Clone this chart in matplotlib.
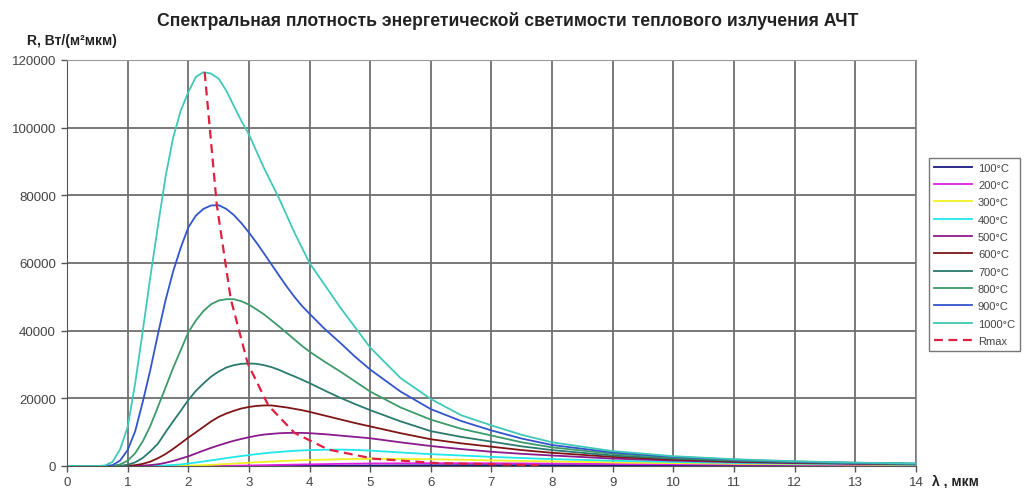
import matplotlib
matplotlib.use("Agg")
import matplotlib.pyplot as plt

plt.rcParams['font.family'] = ['Liberation Sans', 'DejaVu Sans']

# wavelength grid, µm
lam = [0, 0.5, 0.625, 0.75, 0.875, 1.0, 1.125, 1.25, 1.375, 1.5,
       1.625, 1.75, 1.875, 2.0, 2.125, 2.25, 2.375, 2.5, 2.625, 2.75,
       2.875, 3.0, 3.125, 3.25, 3.375, 3.5, 3.625, 3.75, 3.875, 4.0,
       4.25, 4.5, 4.75, 5.0, 5.5, 6.0, 6.5, 7.0, 7.5, 8.0,
       9.0, 10.0, 11.0, 12.0, 13.0, 14.0]

labels = ['100°C', '200°C', '300°C', '400°C', '500°C', '600°C', '700°C', '800°C', '900°C', '1000°C']

r100 = [0, 0, 0, 0, 0, 0, 0, 0, 0, 0,
        0, 0, 0, 0, 1, 2, 3, 4, 6, 8,
        10, 12, 16, 20, 25, 30, 38, 46, 55, 64,
        83, 103, 122, 140, 180, 208, 229, 243, 249, 250,
        236, 217, 194, 170, 148, 127]
r200 = [0, 0, 0, 0, 0, 0, 0, 0, 0, 0,
        0, 2, 6, 15, 22, 30, 40, 50, 75, 100,
        130, 165, 200, 240, 280, 320, 360, 405, 450, 490,
        560, 635, 690, 740, 800, 825, 820, 800, 760, 710,
        600, 500, 420, 350, 290, 250]
r300 = [0, 0, 0, 0, 0, 0, 0, 0, 0, 5,
        20, 40, 70, 110, 170, 250, 330, 450, 580, 700,
        830, 970, 1090, 1210, 1320, 1430, 1530, 1620, 1700, 1770,
        1880, 2000, 2090, 2150, 2100, 2000, 1850, 1650, 1500, 1350,
        1050, 850, 650, 520, 420, 340]
r400 = [0, 0, 0, 0, 0, 0, 0, 5, 30, 80,
        170, 300, 475, 730, 1020, 1330, 1670, 1980, 2320, 2650,
        2950, 3230, 3500, 3750, 3980, 4150, 4330, 4480, 4600, 4700,
        4800, 4850, 4750, 4550, 4000, 3500, 3100, 2700, 2350, 2050,
        1550, 1200, 900, 700, 550, 420]
r500 = [0, 0, 0, 0, 0, 0, 0, 115, 280, 500,
        950, 1500, 2170, 2850, 3700, 4550, 5350, 6100, 6800, 7450,
        8000, 8500, 8950, 9300, 9500, 9680, 9770, 9800, 9780, 9700,
        9400, 9000, 8600, 8200, 7000, 5900, 5000, 4200, 3600, 3100,
        2200, 1600, 1150, 850, 650, 500]
r600 = [0, 0, 0, 0, 0, 70, 250, 640, 1300, 2300,
        3540, 5050, 6700, 8400, 9950, 11550, 13150, 14500, 15500, 16300,
        17000, 17450, 17750, 17900, 17900, 17600, 17300, 16900, 16500, 16000,
        14900, 13800, 12700, 11700, 9700, 7900, 6700, 5700, 4700, 3900,
        2700, 1900, 1350, 1000, 750, 550]
r700 = [0, 0, 0, 0, 40, 380, 1080, 2400, 4350, 6600,
        10000, 13200, 16300, 19500, 22200, 24400, 26400, 27900, 29100, 29800,
        30200, 30300, 30200, 29800, 29200, 28400, 27400, 26500, 25500, 24500,
        22300, 20200, 18300, 16500, 13200, 10300, 8600, 7200, 5800, 4700,
        3100, 2200, 1550, 1100, 800, 600]
r800 = [0, 0, 0, 70, 450, 1550, 3800, 7300, 11900, 17500,
        23200, 29000, 34200, 39500, 43000, 45800, 47800, 48900, 49300, 49300,
        48700, 47700, 46300, 44800, 43000, 41200, 39300, 37400, 35500, 33800,
        30800, 28000, 25000, 22000, 17300, 13700, 11000, 9000, 7000, 5500,
        3600, 2500, 1750, 1250, 900, 650]
r900 = [0, 0, 20, 250, 1600, 4700, 10300, 19000, 28500, 39000,
        49000, 57500, 64500, 70500, 74000, 76000, 77000, 77100, 76000, 74200,
        71800, 69000, 66000, 62800, 59500, 56200, 53000, 50000, 47300, 45000,
        40500, 36500, 32300, 28500, 22000, 16800, 13300, 10500, 8100, 6200,
        4000, 2700, 1900, 1300, 950, 700]
r1000 = [0, 0, 150, 1200, 4900, 11500, 24500, 40000, 56000, 71000,
         85500, 97000, 105000, 110500, 115000, 116400, 116000, 114500, 111000, 106500,
         102000, 98000, 93000, 88000, 83500, 79000, 74000, 69000, 64500, 60000,
         53500, 47000, 41000, 35000, 26000, 19800, 15000, 12000, 9200, 7000,
         4400, 2900, 2000, 1400, 1000, 750]

# locus of maxima (Rmax)
rmax_lam = [2.27, 2.47, 2.70, 2.98, 3.32, 3.75, 4.31, 5.06, 6.13, 7.77]
rmax_val = [116400, 77200, 49400, 30300, 17900, 9800, 4850, 2150, 825, 250]

series = [r100, r200, r300, r400, r500, r600, r700, r800, r900, r1000]
colors = ['#1a1a80', '#e020e0', '#f0f020', '#20e8e8', '#8b1a8b', '#801515',
          '#2a7a6e', '#3d9a6a', '#3355cc', '#40c8b8']

fig = plt.figure(figsize=(10.28, 4.89), dpi=100)
ax = fig.add_axes([67/1028, 1 - 467/489, (916 - 67)/1028, (467 - 61)/489])

for vals, c, lab in zip(series, colors, labels):
    ax.plot(lam, vals, color=c, lw=1.3, label=lab)
ax.plot(rmax_lam, rmax_val, color='#e02040', lw=1.6, ls=(0, (4, 2.5)), label='Rmax')

ax.set_xlim(0, 14)
ax.set_ylim(0, 120000)
ax.set_xticks(range(0, 15))
ax.set_yticks(range(0, 120001, 20000))
ax.grid(True, color='#6e6e6e', lw=1.3)
ax.set_axisbelow(True)
for s in ax.spines.values():
    s.set_color('#9a9a9a')
ax.spines['left'].set_color('#555555')
ax.spines['bottom'].set_color('#555555')
ax.tick_params(direction='out', length=4, width=1, colors='#555555',
               labelsize=9.5, labelcolor='#444444')
ax.tick_params(axis='y', pad=4)
ax.tick_params(axis='x', pad=3)

fig.text(508/1028, 1 - 21/489, 'Спектральная плотность энергетической светимости теплового излучения АЧТ',
         ha='center', va='center', fontsize=12.7, fontweight='bold', color='#222222')
fig.text(27/1028, 1 - 41/489, 'R, Вт/(м²мкм)', ha='left', va='center',
         fontsize=10, fontweight='bold', color='#222222')
fig.text(932/1028, 1 - 482/489, 'λ , мкм', ha='left', va='center',
         fontsize=10, fontweight='bold', color='#222222')

leg = fig.legend(loc='upper left', bbox_to_anchor=(923/1028, 1 - 153/489),
                 fontsize=8, frameon=True, fancybox=False, handlelength=3.5,
                 labelspacing=0.66, borderpad=0.45, handletextpad=0.5)
leg.get_frame().set_edgecolor('#555555')
leg.get_frame().set_linewidth(1.0)
for t in leg.get_texts():
    t.set_color('#444444')

fig.savefig('out.png', dpi=100)
